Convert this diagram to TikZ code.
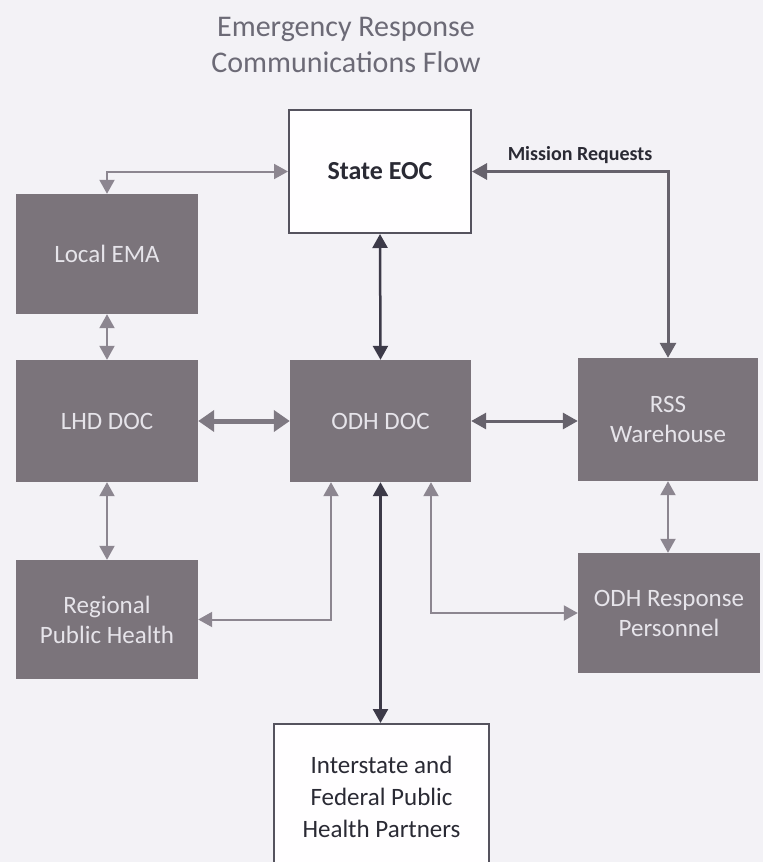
\documentclass[tikz,border=0pt]{standalone}
\usepackage{fontspec}
\setmainfont{Carlito}
\usetikzlibrary{arrows.meta,calc}
\definecolor{bg}{HTML}{F3F2F6}
\definecolor{boxfill}{HTML}{7B747B}
\definecolor{boxtext}{HTML}{E6E4EA}
\definecolor{titlecol}{HTML}{6C6A76}
\definecolor{darktext}{HTML}{2A2A34}
\definecolor{lightarr}{HTML}{8C8690}
\definecolor{midarr}{HTML}{66626C}
\definecolor{darkarr}{HTML}{3C3A48}
\definecolor{wborder}{HTML}{55535E}
\tikzset{
  greybox/.style={fill=boxfill, draw=none, text=boxtext, align=center,
    font=\fontsize{25}{30}\selectfont, inner sep=0pt},
  whitebox/.style={fill=white!96!bg, draw=wborder, line width=2pt, text=darktext,
    align=center, inner sep=0pt},
  lightlink/.style={draw=lightarr, line width=2pt,
    {Triangle[length=14pt,width=15pt]}-{Triangle[length=14pt,width=15pt]}},
  midlink/.style={draw=midarr, line width=3pt,
    {Triangle[length=15pt,width=16pt]}-{Triangle[length=15pt,width=16pt]}},
  darklink/.style={draw=darkarr, line width=2.5pt,
    {Triangle[length=14pt,width=15pt]}-{Triangle[length=14pt,width=15pt]}},
  thicklink/.style={draw=lightarr!90!black, line width=5pt,
    {Triangle[length=16pt,width=21pt]}-{Triangle[length=16pt,width=21pt]}},
}
\begin{document}
\begin{tikzpicture}[x=1pt,y=-1pt]
\useasboundingbox (0,0) rectangle (763,862);
\fill[bg] (0,0) rectangle (763,862);
\clip (0,0) rectangle (763,862);

% title
\node[text=titlecol, align=center, font=\fontsize{30}{36}\selectfont] (title) at (346,45)
  {Emergency Response\\Communications Flow};

% boxes
\node[whitebox, minimum width=182pt, minimum height=123pt,
  font=\bfseries\fontsize{26}{30}\selectfont] (seoc) at (380,171.5) {State EOC};
\node[greybox, minimum width=182pt, minimum height=120pt] (lema) at (107,254) {Local EMA};
\node[greybox, minimum width=182pt, minimum height=122pt] (lhd) at (107,421) {LHD DOC};
\node[greybox, minimum width=181pt, minimum height=122pt] (odh) at (380.5,421) {ODH DOC};
\node[greybox, minimum width=180pt, minimum height=123pt] (rss) at (668,419.5) {RSS\\Warehouse};
\node[greybox, minimum width=182pt, minimum height=119pt] (reg) at (107,619.5) {Regional\\Public Health};
\node[greybox, minimum width=182pt, minimum height=120pt] (resp) at (669,613) {ODH Response\\Personnel};
\node[whitebox, minimum width=215pt, minimum height=146pt,
  font=\fontsize{25}{32}\selectfont] (inter) at (381.5,797)
  {Interstate and\\Federal Public\\Health Partners};

% connectors
\draw[lightlink] (seoc.west) -| (lema.north);
\draw[midlink] (seoc.east) -| (rss.north);
\node[text=darktext, font=\bfseries\fontsize{20}{24}\selectfont] (mreq) at (580,155) {Mission Requests};
\draw[darklink] (seoc.south) -- (odh.north);
\draw[lightlink] (lema.south) -- (lhd.north);
\draw[thicklink] (lhd.east) -- (odh.west);
\draw[midlink] (odh.east) -- (odh.east -| rss.west);
\draw[lightlink] (lhd.south) -- (reg.north);
\draw[lightlink] ([xshift=-49.5pt]odh.south) |- (reg.east);
\draw[lightlink] ([xshift=50.5pt]odh.south) |- (resp.west);
\draw[darklink] (odh.south) -- (odh.south |- inter.north);
\draw[lightlink] (rss.south) -- (rss.south |- resp.north);
\end{tikzpicture}
\end{document}
